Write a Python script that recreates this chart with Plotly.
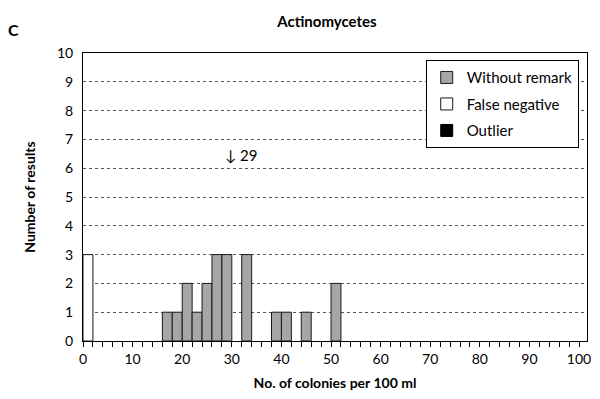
import plotly.graph_objects as go

# histogram bins (left edge, width 2) and counts
remark_bins = [16, 18, 20, 22, 24, 26, 28, 32, 38, 40, 44, 50]
remark_counts = [1, 1, 2, 1, 2, 3, 3, 3, 1, 1, 1, 2]
false_neg_bins = [0]
false_neg_counts = [3]
outlier_bins = []
outlier_counts = []
bin_width = 2

x_ticks = list(range(0, 101, 10))
y_ticks = list(range(0, 11))

FONT = "Lato"

fig = go.Figure()

fig.add_trace(go.Bar(
    x=remark_bins, y=remark_counts, width=bin_width, offset=0,
    name="Without remark", legendgroup="a",
    marker=dict(color="#a6a6a6", line=dict(color="#1a1a1a", width=1)),
))
fig.add_trace(go.Bar(
    x=false_neg_bins, y=false_neg_counts, width=bin_width, offset=0,
    name="False negative", legendgroup="b",
    marker=dict(color="white", line=dict(color="#1a1a1a", width=1)),
))
# no outliers in this round, keep an empty entry so it shows in the legend
fig.add_trace(go.Bar(
    x=outlier_bins or [None], y=outlier_counts or [None],
    width=bin_width, offset=0,
    name="Outlier", legendgroup="c", showlegend=True,
    marker=dict(color="black", line=dict(color="black", width=1)),
))

# off-scale value marker
fig.add_annotation(
    x=32, y=6.45, text="\u2193 29", showarrow=False,
    font=dict(family=FONT, size=15, color="black"),
)

# panel letter
fig.add_annotation(
    xref="paper", yref="paper", x=-0.137, y=1.08, yanchor="middle",
    xanchor="center", text="<b>C</b>",
    showarrow=False, font=dict(family=FONT, size=16, color="black"),
)

# page body has an 8px margin, so the figure is a bit smaller than the window
fig.update_layout(
    width=592, height=383,
    paper_bgcolor="white", plot_bgcolor="white",
    margin=dict(l=75, r=13, t=45, b=50),
    barmode="overlay",
    title=dict(text="<b>Actinomycetes</b>", xref="paper", x=0.484,
               xanchor="center", yref="container", y=0.963, yanchor="middle",
               font=dict(family=FONT, size=15, color="black")),
    font=dict(family=FONT, size=14, color="black"),
    legend=dict(
        x=0.68, y=0.975, xanchor="left", yanchor="top",
        bgcolor="white", bordercolor="black", borderwidth=1,
        traceorder="grouped", tracegroupgap=4, itemwidth=30,
        font=dict(family=FONT, size=15, color="black"),
    ),
    showlegend=True,
)

fig.update_xaxes(
    range=[0, 101.6], tickvals=x_ticks, ticks="outside", ticklen=5,
    tickcolor="black", showline=True, linecolor="black", linewidth=1,
    mirror=True, showgrid=False, zeroline=False, automargin=False,
    ticklabeloverflow="allow",
    minor=dict(dtick=2, tick0=0, ticks="outside", ticklen=5, tickcolor="black"),
    title=dict(text="<b>No. of colonies per 100 ml</b>", standoff=14,
               font=dict(family=FONT, size=14)),
    tickfont=dict(family=FONT, size=14),
)
fig.update_yaxes(
    range=[0, 10], tickvals=y_ticks, ticks="", showline=True,
    linecolor="black", linewidth=1, mirror=True,
    showgrid=True, gridcolor="#555555", griddash="dot", gridwidth=1,
    zeroline=False, automargin=False, ticklabelstandoff=6,
    title=dict(text="<b>Number of results</b>", standoff=18,
               font=dict(family=FONT, size=14)),
    tickfont=dict(family=FONT, size=14),
)

fig.write_html("out.html")
